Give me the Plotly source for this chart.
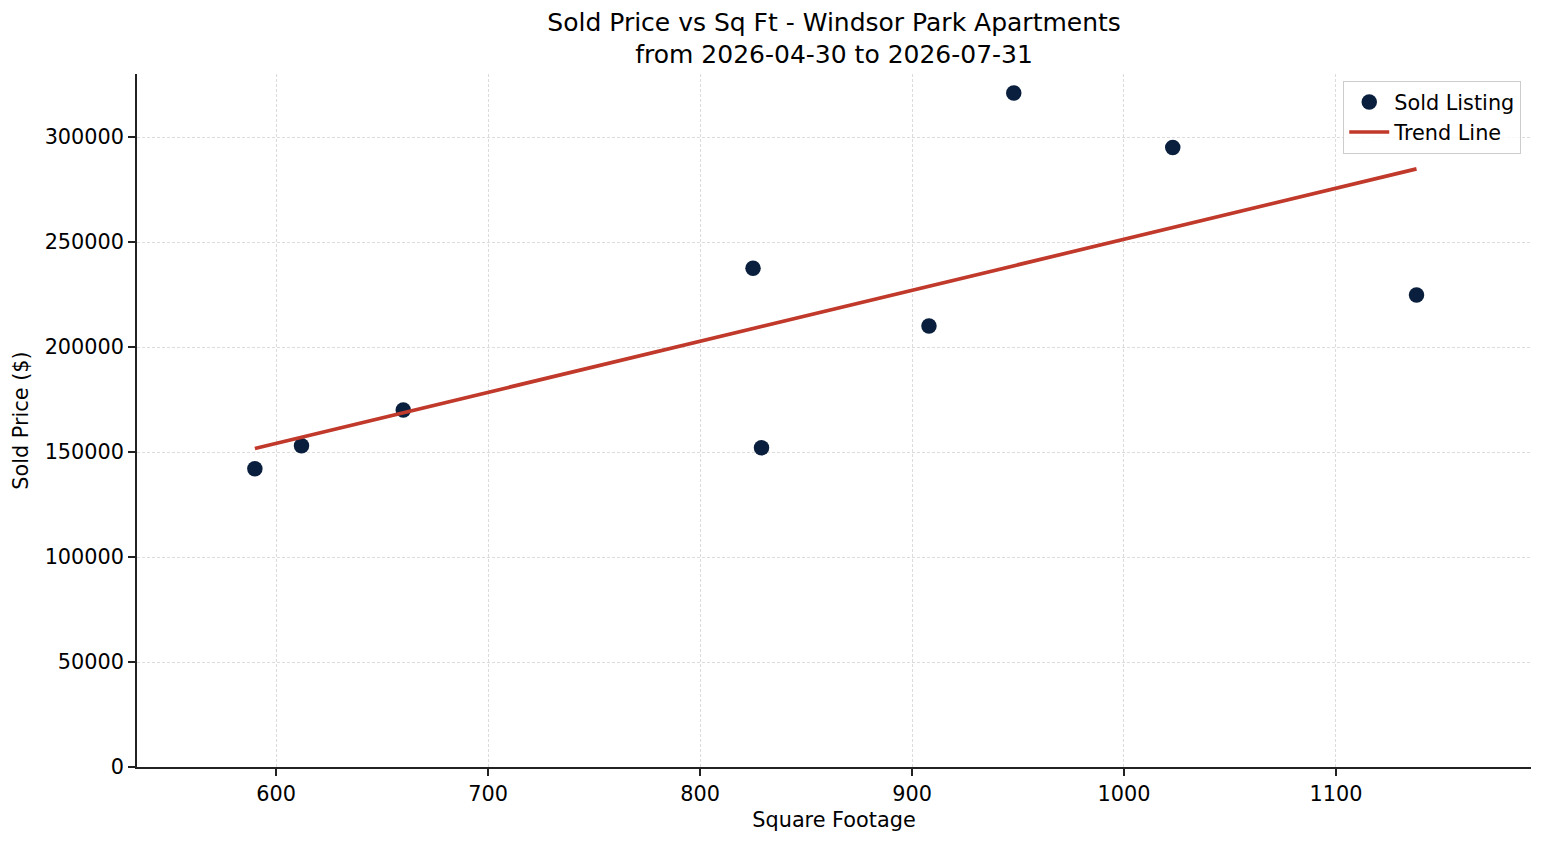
import numpy as np
import plotly.graph_objects as go

# sold listings
sq_ft = [590, 612, 660, 825, 829, 908, 948, 1023, 1138]
sold_price = [142000, 153000, 170000, 237500, 152000, 210000, 321000, 295000, 224800]

x_ticks = [600, 700, 800, 900, 1000, 1100]
y_ticks = [0, 50000, 100000, 150000, 200000, 250000, 300000]

# least-squares trend
slope, intercept = np.polyfit(sq_ft, sold_price, 1)
trend_x = [min(sq_ft), max(sq_ft)]
trend_y = [slope * v + intercept for v in trend_x]

font = "DejaVu Sans"
fs = 20.8

scatter = go.Scatter(
    x=sq_ft, y=sold_price, mode="markers", name="Sold Listing",
    marker=dict(color="#0a1f3d", size=15.5, line=dict(width=0)),
)
trend = go.Scatter(
    x=trend_x, y=trend_y, mode="lines", name="Trend Line",
    line=dict(color="#c0392b", width=3.7),
)

fig = go.Figure(data=[scatter, trend])

fig.update_layout(
    width=1547, height=845,
    paper_bgcolor="white", plot_bgcolor="white",
    font=dict(family=font, size=fs, color="black"),
    title=dict(
        text="Sold Price vs Sq Ft - Windsor Park Apartments<br>from 2026-04-30 to 2026-07-31",
        x=0.534, xanchor="center", y=0.973, yanchor="top",
        font=dict(family=font, size=25, color="black"),
    ),
    margin=dict(l=129, r=24, t=66, b=86),
    showlegend=True,
    legend=dict(
        x=0.993, xanchor="right", y=0.99, yanchor="top",
        bgcolor="rgba(255,255,255,0.8)", bordercolor="#cccccc", borderwidth=1,
        font=dict(family=font, size=fs),
        itemwidth=40,
    ),
)

axis_common = dict(
    showgrid=True, gridcolor="#dcdcdc", griddash="3px,2px", gridwidth=1,
    showline=True, linecolor="#222222", linewidth=1.6,
    ticks="outside", ticklen=7, tickwidth=1.6, tickcolor="#222222",
    tickfont=dict(family=font, size=fs),
    zeroline=False, mirror=False,
)

fig.update_xaxes(
    range=[534.4, 1192], tickvals=x_ticks,
    title=dict(text="Square Footage", font=dict(family=font, size=fs), standoff=8),
    **axis_common,
)
fig.update_yaxes(
    range=[0, 330000], tickvals=y_ticks, tickformat="d",
    title=dict(text="Sold Price ($)", font=dict(family=font, size=fs), standoff=10),
    **axis_common,
)

fig.write_html("out.html")
